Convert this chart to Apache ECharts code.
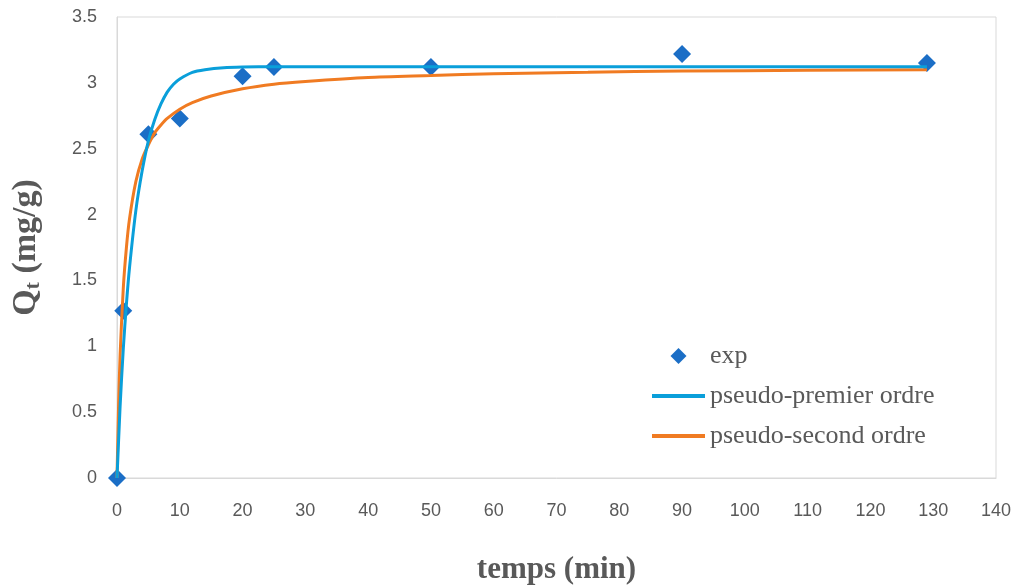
<!DOCTYPE html>
<html>
<head>
<meta charset="utf-8">
<script src="https://cdn.jsdelivr.net/npm/echarts@6/dist/echarts.min.js"></script>
<style>
  html, body { margin: 0; padding: 0; background: #fff; }
  #chart { width: 1021px; height: 587px; }
</style>
</head>
<body>
<div id="chart"></div>
<script>
// experimental points
const expTime = [0, 1, 5, 10, 20, 25, 50, 90, 129];
const expQt = [0, 1.27, 2.61, 2.73, 3.05, 3.12, 3.12, 3.22, 3.15];

// pseudo-premier ordre curve
const pfoTime = [0, 0.5, 1, 1.5, 2, 3, 4, 5, 6, 7, 8, 9, 10, 12, 14, 17, 20, 25, 129];
const pfoQt = [0, 0.55, 0.98, 1.32, 1.6, 2.03, 2.33, 2.56, 2.72, 2.84, 2.93, 2.99, 3.03, 3.08, 3.10, 3.115, 3.12, 3.123, 3.123];

// pseudo-second ordre curve
const psoTime = [0, 0.25, 0.5, 1, 1.5, 2, 3, 4, 5, 6, 7, 8, 10, 12, 15, 20, 25, 30, 40, 50, 60, 75, 90, 110, 129];
const psoQt = [0, 0.55, 0.94, 1.44, 1.75, 1.97, 2.25, 2.42, 2.53, 2.62, 2.68, 2.73, 2.80, 2.85, 2.90, 2.955, 2.99, 3.01, 3.04, 3.055, 3.07, 3.08, 3.09, 3.095, 3.10];

const xTicks = { min: 0, max: 140, interval: 10 };
const yTicks = { min: 0, max: 3.5, interval: 0.5 };

const pairs = (xs, ys) => xs.map((x, i) => [x, ys[i]]);

const chart = echarts.init(document.getElementById('chart'));

const serif = 'Liberation Serif, Times New Roman, serif';
const labelStyle = { color: '#595959', fontSize: 18, fontFamily: 'Liberation Sans, Arial, sans-serif' };
const nameStyle = { color: '#595959', fontSize: 31, fontWeight: 'bold', fontFamily: serif };

const option = {
  backgroundColor: '#fff',
  animation: false,
  grid: {
    left: 117,
    right: 25,
    top: 17,
    bottom: 109,
    outerBoundsMode: 'none',
    containLabel: false,
    show: true,
    borderColor: '#d9d9d9',
    borderWidth: 1
  },
  legend: {
    orient: 'vertical',
    left: 652,
    top: 343,
    padding: 0,
    itemWidth: 53,
    itemHeight: 16,
    itemGap: 14,
    textStyle: { color: '#595959', fontSize: 26, fontFamily: serif },
    data: [
      { name: 'exp', icon: 'path://M0,-1L1,0L0,1L-1,0Z' },
      { name: 'pseudo-premier ordre', icon: 'path://M0,0H53V4H0Z' },
      { name: 'pseudo-second ordre', icon: 'path://M0,0H53V4H0Z' }
    ]
  },
  xAxis: {
    type: 'value',
    min: xTicks.min,
    max: xTicks.max,
    interval: xTicks.interval,
    name: 'temps (min)',
    nameLocation: 'middle',
    nameGap: 76,
    nameTextStyle: nameStyle,
    axisLine: { show: true, lineStyle: { color: '#d9d9d9', width: 1 } },
    axisTick: { show: false },
    splitLine: { show: false },
    axisLabel: Object.assign({ margin: 24 }, labelStyle)
  },
  yAxis: {
    type: 'value',
    min: yTicks.min,
    max: yTicks.max,
    interval: yTicks.interval,
    name: '{q|Q}{sub|t}{q| (mg/g)}',
    nameLocation: 'middle',
    nameGap: 73,
    nameRotate: 90,
    nameTextStyle: {
      rich: {
        q: { color: '#595959', fontSize: 34, fontWeight: 'bold', fontFamily: serif },
        sub: { color: '#595959', fontSize: 22, fontWeight: 'bold', fontFamily: serif, padding: [14, 0, 0, 0] }
      }
    },
    axisLine: { show: true, lineStyle: { color: '#d9d9d9', width: 1 } },
    axisTick: { show: false },
    splitLine: { show: false },
    axisLabel: Object.assign({ margin: 20 }, labelStyle)
  },
  series: [
    {
      name: 'exp',
      type: 'scatter',
      symbol: 'diamond',
      symbolSize: 18,
      z: 1,
      itemStyle: { color: '#1b6ec6', opacity: 1 },
      data: pairs(expTime, expQt)
    },
    {
      name: 'pseudo-premier ordre',
      type: 'line',
      symbol: 'none',
      smooth: 0.25,
      z: 3,
      lineStyle: { color: '#0a9fda', width: 3 },
      itemStyle: { color: '#0a9fda' },
      data: pairs(pfoTime, pfoQt)
    },
    {
      name: 'pseudo-second ordre',
      type: 'line',
      symbol: 'none',
      smooth: 0.25,
      z: 2,
      lineStyle: { color: '#f07b22', width: 3 },
      itemStyle: { color: '#f07b22' },
      data: pairs(psoTime, psoQt)
    }
  ]
};

chart.setOption(option);
</script>
</body>
</html>
